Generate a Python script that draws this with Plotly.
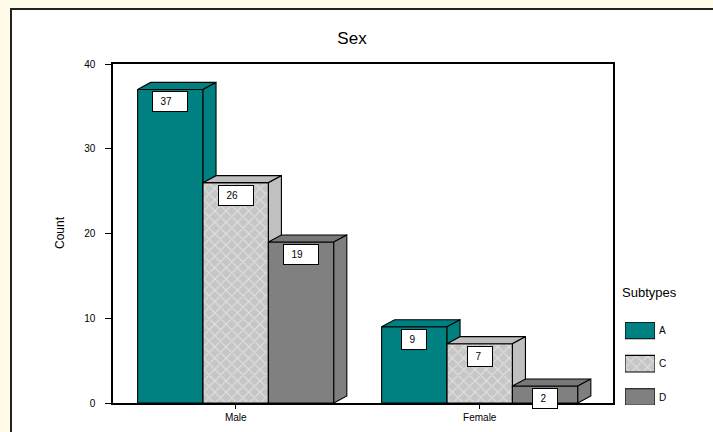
import plotly.graph_objects as go

categories = ["Male", "Female"]
subtypes = ["A", "C", "D"]
counts_A = [37, 9]
counts_C = [26, 7]
counts_D = [19, 2]
y_ticks = [0, 10, 20, 30, 40]

series = [("A", counts_A), ("C", counts_C), ("D", counts_D)]

FONT = "Liberation Sans Narrow, Liberation Sans, Arial, sans-serif"
PAT = dict(shape="x", fgcolor="white", bgcolor="#C6C6C6", size=8, solidity=0.25)
styles = {
    "A": dict(front="#008080", side="#008080", top="#008080", pattern=None),
    "C": dict(front="#C6C6C6", side="#C0C0C0", top="#BDBDBD", pattern=PAT),
    "D": dict(front="#808080", side="#7F7F7F", top="#787878", pattern=None),
}

BAR_W = 0.268   # width of one bar in category units
DX = 0.0533     # 3D depth offset (x units)
DY = 0.826      # 3D depth offset (y units)

W, H = 713, 432
ML, MR, MT, MB = 113, 40, 64, 20
PW, PH = W - ML - MR, H - MT - MB


def px_x(p):
    return (p - ML) / PW


def px_y(p):
    return (H - MB - p) / PH


fig = go.Figure()


def poly(xs, ys, fill, pattern=None, xa="x", ya="y"):
    kw = {}
    if pattern is not None:
        kw["fillpattern"] = pattern
    fig.add_trace(go.Scatter(
        x=xs + [xs[0]], y=ys + [ys[0]], mode="lines", fill="toself",
        fillcolor=fill, line=dict(color="black", width=1.1),
        hoverinfo="skip", showlegend=False, xaxis=xa, yaxis=ya, **kw))


annotations = []
for ci, cat in enumerate(categories):
    for si, (name, vals) in enumerate(series):
        v = vals[ci]
        st = styles[name]
        x0 = ci + (si - 1.5) * BAR_W
        x1 = x0 + BAR_W
        # front face
        poly([x0, x1, x1, x0], [0, 0, v, v], st["front"], st["pattern"])
        # top face
        poly([x0, x1, x1 + DX, x0 + DX], [v, v, v + DY, v + DY], st["top"])
        # side face
        poly([x1, x1 + DX, x1 + DX, x1], [0, DY, v + DY, v], st["side"])
        # value label box
        annotations.append(dict(
            x=(x0 + x1) / 2, y=v, xref="x", yref="y", text="  " + str(v),
            showarrow=False, xanchor="center", yanchor="top", yshift=-2,
            width=30 if v >= 10 else 20, height=15, align="left",
            bgcolor="white", bordercolor="black", borderwidth=1, borderpad=2,
            font=dict(family=FONT, size=10, color="black")))

# custom legend swatches
for i, name in enumerate(subtypes):
    st = styles[name]
    yc = 2 - i
    poly([0, 1, 1, 0], [yc - 0.25, yc - 0.25, yc + 0.25, yc + 0.25],
         st["front"], st["pattern"], xa="x2", ya="y2")
    annotations.append(dict(
        x=1, y=yc, xref="x2", yref="y2", text=name, showarrow=False,
        xanchor="left", yanchor="middle", xshift=2,
        font=dict(family=FONT, size=10, color="black")))

annotations.append(dict(
    x=px_x(620), y=px_y(292), xref="paper", yref="paper", text="Subtypes",
    showarrow=False, xanchor="left", yanchor="middle",
    font=dict(family=FONT, size=13, color="black")))
annotations.append(dict(
    x=px_x(60), y=px_y(233), xref="paper", yref="paper", text="Count",
    showarrow=False, textangle=-90, xanchor="center", yanchor="middle",
    font=dict(family=FONT, size=12, color="black")))

fig.update_layout(
    width=W, height=H,
    margin=dict(l=ML, r=MR, t=MT, b=MB, autoexpand=False),
    paper_bgcolor="#FFFBE8", plot_bgcolor="white",
    showlegend=False,
    title=dict(text="Sex", x=352 / W, xref="container", y=1 - 38 / H,
               yref="container", xanchor="center", yanchor="middle",
               font=dict(family=FONT, size=17, color="black")),
    xaxis=dict(domain=[0, px_x(613)], range=[-0.5029, 1.5461],
               tickvals=[0, 1], ticktext=categories, ticks="outside",
               ticklen=4, tickcolor="black", showline=True, linecolor="black",
               linewidth=1.5, mirror=True, showgrid=False, zeroline=False,
               ticklabelstandoff=0, automargin=False,
               tickfont=dict(family=FONT, size=10, color="black"),
               fixedrange=True),
    yaxis=dict(domain=[px_y(403), 1], range=[0, 40], tickvals=y_ticks,
               ticks="outside", ticklen=6, tickcolor="black", showline=True,
               linecolor="black", linewidth=1.5, mirror=True, showgrid=False,
               zeroline=False, ticklabelstandoff=8, automargin=False,
               tickfont=dict(family=FONT, size=10, color="black"),
               fixedrange=True),
    xaxis2=dict(domain=[px_x(625), px_x(655)], range=[0, 1], anchor="y2",
                visible=False, fixedrange=True),
    yaxis2=dict(domain=[px_y(405), px_y(322)], range=[-0.24, 2.254],
                anchor="x2", visible=False, fixedrange=True),
    annotations=annotations,
    shapes=[dict(type="rect", xref="paper", yref="paper",
                 x0=px_x(11), x1=1.3, y0=-0.3, y1=px_y(9),
                 fillcolor="white", line=dict(color="#222", width=2),
                 layer="below")],
)

fig.write_html("out.html")
